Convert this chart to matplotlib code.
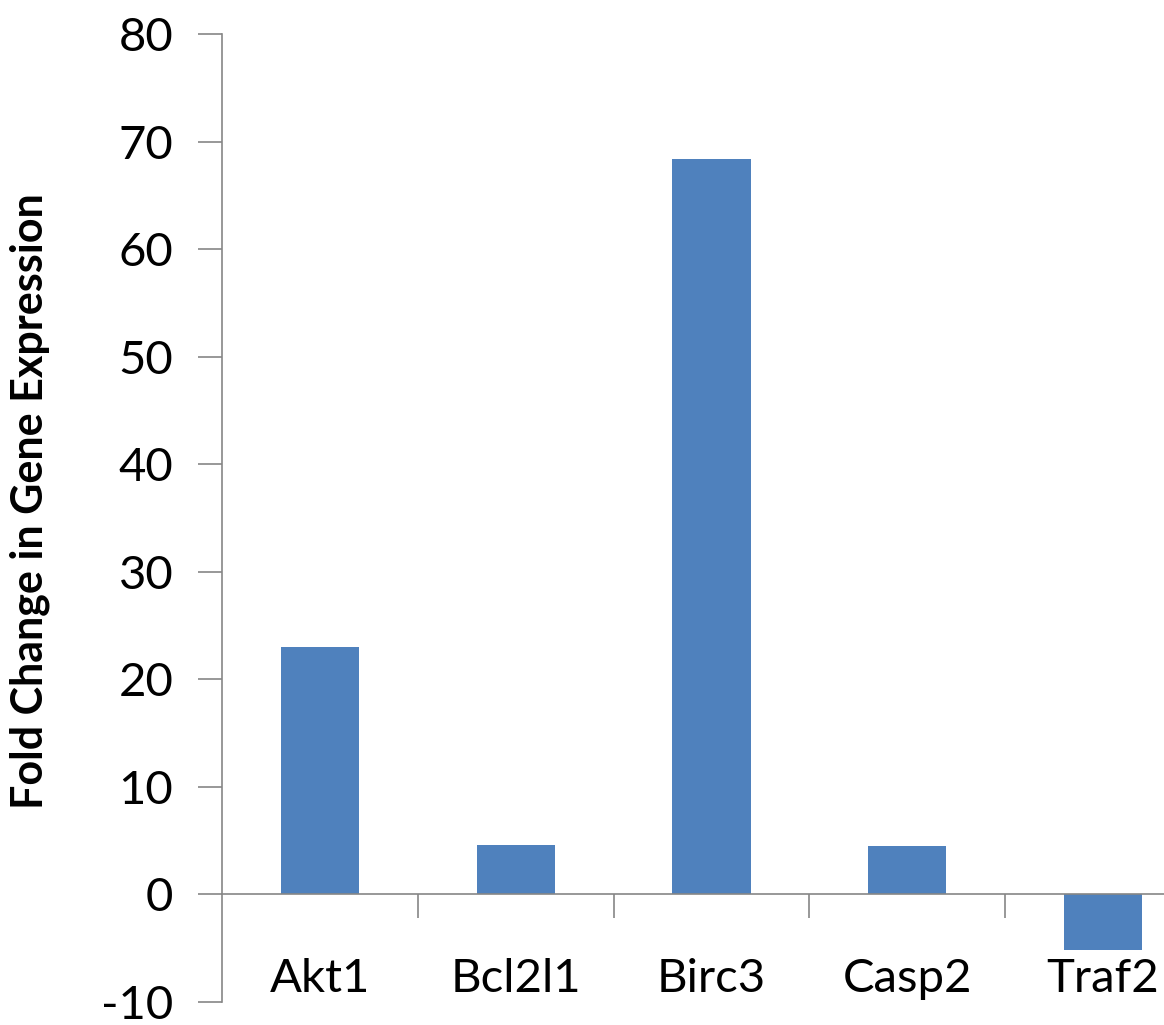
import matplotlib.pyplot as plt
import numpy as np

genes = ["Akt1", "Bcl2l1", "Birc3", "Casp2", "Traf2"]
fold_change = [23.0, 4.6, 68.4, 4.5, -5.2]
y_ticks = [-10, 0, 10, 20, 30, 40, 50, 60, 70, 80]

plt.rcParams['font.family'] = ['Lato', 'DejaVu Sans']
axis_gray = "#868686"

fig = plt.figure(figsize=(11.64, 10.25), dpi=100)
ax = fig.add_axes([0.1907, 0.02244, 0.8411, 0.9444])

x = np.arange(len(genes))
ax.bar(x, fold_change, width=0.4, color="#4F81BD", zorder=2)

ax.set_xlim(-0.5, len(genes) - 0.5)
ax.set_ylim(-10, 80)
ax.set_yticks(y_ticks)
ax.set_yticklabels([str(v) for v in y_ticks])

# category labels on major ticks, boundary marks on minor ticks
ax.set_xticks(x)
ax.set_xticks(np.arange(len(genes)) + 0.5, minor=True)
ax.set_xticklabels(genes)
ax.tick_params(axis="x", which="major", length=0, pad=46, labelsize=34)
ax.tick_params(axis="x", which="minor", length=17, width=1.2, color=axis_gray)
ax.tick_params(axis="y", length=17, width=1.2, color=axis_gray, pad=18, labelsize=34)

for side in ["top", "right"]:
    ax.spines[side].set_visible(False)
ax.spines["bottom"].set_position(("data", 0))
for side in ["left", "bottom"]:
    ax.spines[side].set_color(axis_gray)
    ax.spines[side].set_linewidth(1.2)

ax.set_ylabel("Fold Change in Gene Expression", fontsize=31, fontweight="bold")
ax.yaxis.set_label_coords(-0.176, 0.5175)

fig.savefig("out.png", dpi=100)
